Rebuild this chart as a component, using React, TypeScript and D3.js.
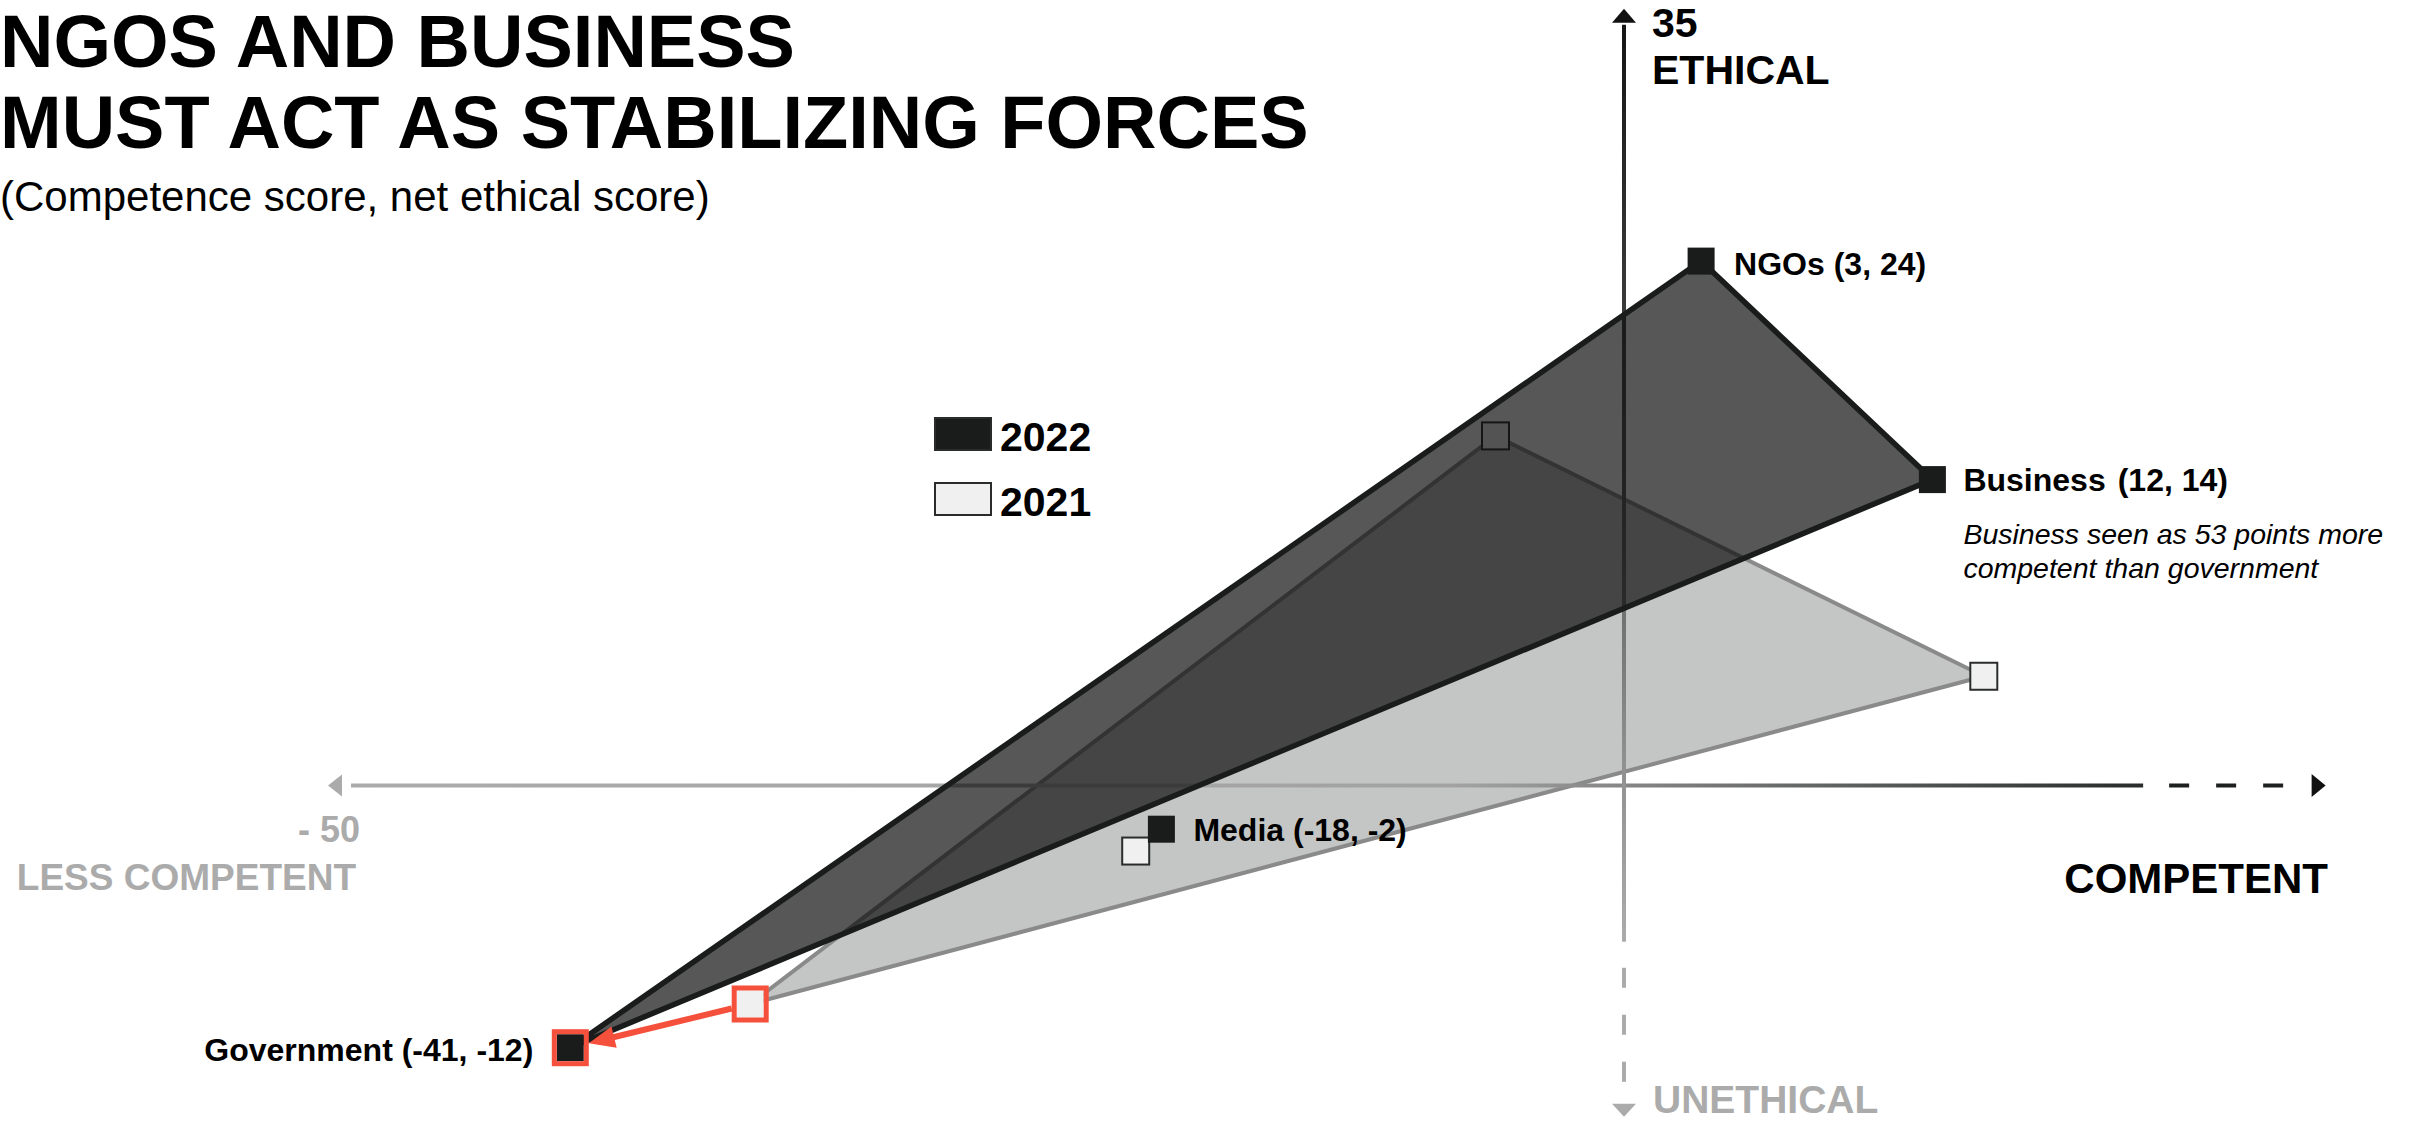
import React from "react";
import * as d3 from "d3";

const institutions = ["NGOs", "Business", "Media", "Government"];
const competence2022 = [3, 12, -18, -41];
const ethical2022 = [24, 14, -2, -12];
const competence2021 = [-5, 14, -19, -34];
const ethical2021 = [16, 5, -3, -10];
const polygonOrder = [3, 0, 1]; // Government, NGOs, Business
const legendYears = ["2022", "2021"];
const titleLines = ["NGOS AND BUSINESS", "MUST ACT AS STABILIZING FORCES"];
const subtitle = "(Competence score, net ethical score)";
const annotationLines = ["Business seen as 53 points more", "competent than government"];
const xAxisMin = -50;
const xAxisSolidMax = 20.2;
const xAxisDashMax = 25.7;
const xAxisTip = 27.3;
const yAxisMax = 35;
const yAxisSolidMin = -7.15;
const yAxisDashMin = -13.6;

const W = 2419;
const H = 1123;
const FONT = "'Liberation Sans', Arial, Helvetica, sans-serif";
const DARK = "#1a1c1c";
const RED = "#f4503c";

export default function App() {
  const x = d3.scaleLinear().domain([-50, 20]).range([339, 2138]);
  const y = d3.scaleLinear().domain([-12, 24]).range([1047.7, 261.1]);
  const line = d3.line<[number, number]>().x((d) => x(d[0])).y((d) => y(d[1]));

  const poly2022 = line(polygonOrder.map((i) => [competence2022[i], ethical2022[i]] as [number, number])) + "Z";
  const poly2021 = line(polygonOrder.map((i) => [competence2021[i], ethical2021[i]] as [number, number])) + "Z";

  const S = 27;
  const x0 = x(0);
  const y0 = y(0);

  // red arrow from Government 2021 to Government 2022
  const gi = 3;
  const p1 = [x(competence2021[gi]), y(ethical2021[gi])];
  const p2 = [x(competence2022[gi]), y(ethical2022[gi])];
  const dx = p2[0] - p1[0];
  const dy = p2[1] - p1[1];
  const m = Math.max(Math.abs(dx), Math.abs(dy));
  const len = Math.hypot(dx, dy);
  const ux = dx / len;
  const uy = dy / len;
  const start = [p1[0] + (dx * 18.5) / m, p1[1] + (dy * 18.5) / m];
  const tip = [p2[0] - (dx * 18.5) / m, p2[1] - (dy * 18.5) / m];
  const headLen = 26;
  const headHalf = 11;
  const base = [tip[0] - ux * headLen, tip[1] - uy * headLen];
  const head = [
    tip,
    [base[0] - uy * headHalf, base[1] + ux * headHalf],
    [base[0] + uy * headHalf, base[1] - ux * headHalf],
  ];

  const labelText = (i: number) =>
    `${institutions[i]} (${competence2022[i]}, ${ethical2022[i]})`;

  const xl = x(xAxisMin);
  const xs = x(xAxisSolidMax);
  const xd = x(xAxisDashMax);
  const xt = x(xAxisTip);
  const yt = y(yAxisMax);
  const ys = y(yAxisSolidMin);
  const yd = y(yAxisDashMin);

  return (
    <svg
      width={W}
      height={H}
      style={{ position: "absolute", left: 0, top: 0, background: "#fff" }}
      fontFamily={FONT}
    >
      <defs>
        <linearGradient id="xg" gradientUnits="userSpaceOnUse" x1={xl} y1={0} x2={xs} y2={0}>
          <stop offset="0" stopColor="#ababab" />
          <stop offset="0.62" stopColor="#a2a2a2" />
          <stop offset="1" stopColor="#2a2c2c" />
        </linearGradient>
        <linearGradient id="yg" gradientUnits="userSpaceOnUse" x1={0} y1={yt} x2={0} y2={ys}>
          <stop offset="0" stopColor="#141515" />
          <stop offset="0.45" stopColor="#4a4c4c" />
          <stop offset="0.8" stopColor="#8f8f8f" />
          <stop offset="1" stopColor="#ababab" />
        </linearGradient>
      </defs>

      {/* title */}
      {titleLines.map((t, i) => (
        <text key={t} x={0} y={67 + i * 81} fontSize={74} fontWeight="bold" fill="#000">
          {t}
        </text>
      ))}
      <text x={0} y={211} fontSize={42} fill="#000">
        {subtitle}
      </text>

      {/* 2021 polygon */}
      <path d={poly2021} fill="#c4c6c5" stroke="#8a8a8a" strokeWidth={4} strokeLinejoin="round" />

      {/* axes */}
      <line x1={xl + 12} y1={y0} x2={xs} y2={y0} stroke="url(#xg)" strokeWidth={4} />
      <path d={`M${xl - 11},${y0} L${xl + 3},${y0 - 11} L${xl + 3},${y0 + 11} Z`} fill="#ababab" />
      <line x1={xs + 26} y1={y0} x2={xd} y2={y0} stroke="#1e2020" strokeWidth={4} strokeDasharray="20 27" />
      <path d={`M${xt},${y0} L${xt - 14},${y0 - 11.5} L${xt - 14},${y0 + 11.5} Z`} fill="#111" />

      <line x1={x0} y1={yt + 4} x2={x0} y2={ys} stroke="url(#yg)" strokeWidth={4} />
      <path d={`M${x0},${yt - 12} L${x0 - 12},${yt + 2} L${x0 + 12},${yt + 2} Z`} fill="#111" />
      <line x1={x0} y1={ys + 26} x2={x0} y2={yd} stroke="#ababab" strokeWidth={4} strokeDasharray="20 27" />
      <path d={`M${x0 - 12},${yd + 21} L${x0 + 12},${yd + 21} L${x0},${yd + 34} Z`} fill="#ababab" />

      {/* axis labels */}
      <text x={x0 + 28} y={37} fontSize={41} fontWeight="bold" fill="#000">{yAxisMax}</text>
      <text x={x0 + 28} y={84} fontSize={41} fontWeight="bold" fill="#000">ETHICAL</text>
      <text x={xl + 21} y={842} fontSize={36} fontWeight="bold" fill="#ababab" textAnchor="end">
        {`- ${Math.abs(xAxisMin)}`}
      </text>
      <text x={356} y={890} fontSize={37} fontWeight="bold" fill="#ababab" textAnchor="end">LESS COMPETENT</text>
      <text x={2328} y={893} fontSize={42} fontWeight="bold" fill="#000" textAnchor="end">COMPETENT</text>
      <text x={x0 + 29} y={1113} fontSize={39} fontWeight="bold" fill="#ababab">UNETHICAL</text>

      {/* 2021 markers */}
      {institutions.map((n, i) => (
        <rect
          key={"m21" + n}
          x={x(competence2021[i]) - S / 2}
          y={y(ethical2021[i]) - S / 2}
          width={S}
          height={S}
          fill="#f0f0f0"
          stroke={i === gi ? "none" : "#2a2c2c"}
          strokeWidth={2}
        />
      ))}

      {/* 2022 polygon and markers */}
      <path d={poly2022} fill="#0b0c0c" fillOpacity={0.69} stroke={DARK} strokeWidth={5.5} strokeLinejoin="round" />
      {institutions.map((n, i) => (
        <rect
          key={"m22" + n}
          x={x(competence2022[i]) - S / 2}
          y={y(ethical2022[i]) - S / 2}
          width={S}
          height={S}
          fill={DARK}
        />
      ))}

      {/* government highlight */}
      <rect x={p1[0] - 16} y={p1[1] - 16} width={32} height={32} fill="none" stroke={RED} strokeWidth={5} />
      <rect x={p2[0] - 16} y={p2[1] - 16} width={32} height={32} fill="none" stroke={RED} strokeWidth={5} />
      <line x1={start[0]} y1={start[1]} x2={base[0] + ux * 4} y2={base[1] + uy * 4} stroke={RED} strokeWidth={6} />
      <path d={`M${head.map((p) => p.join(",")).join("L")}Z`} fill={RED} />

      {/* point labels */}
      <text x={x(competence2022[0]) + 33} y={y(ethical2022[0]) + 14} fontSize={32} fontWeight="bold" fill="#000">
        {labelText(0)}
      </text>
      <text x={x(competence2022[1]) + 31} y={y(ethical2022[1]) + 11} fontSize={32} fontWeight="bold" fill="#000">
        {institutions[1]}
        <tspan dx={12}>{`(${competence2022[1]}, ${ethical2022[1]})`}</tspan>
      </text>
      {annotationLines.map((t, i) => (
        <text
          key={t}
          x={x(competence2022[1]) + 31}
          y={544 + i * 34}
          fontSize={28.5}
          fontStyle="italic"
          fill="#000"
        >
          {t}
        </text>
      ))}
      <text x={x(competence2022[2]) + 32} y={y(ethical2022[2]) + 12} fontSize={32} fontWeight="bold" fill="#000">
        {labelText(2)}
      </text>
      <text x={x(competence2022[3]) - 37} y={y(ethical2022[3]) + 13} fontSize={32} fontWeight="bold" fill="#000" textAnchor="end">
        {labelText(3)}
      </text>

      {/* legend */}
      {legendYears.map((yr, i) => (
        <g key={yr}>
          <rect
            x={935}
            y={418 + i * 65}
            width={56}
            height={32}
            fill={i === 0 ? DARK : "#f0f0f0"}
            stroke="#2a2c2c"
            strokeWidth={2}
          />
          <text x={1000} y={451 + i * 65} fontSize={41} fontWeight="bold" fill="#000">
            {yr}
          </text>
        </g>
      ))}
    </svg>
  );
}
